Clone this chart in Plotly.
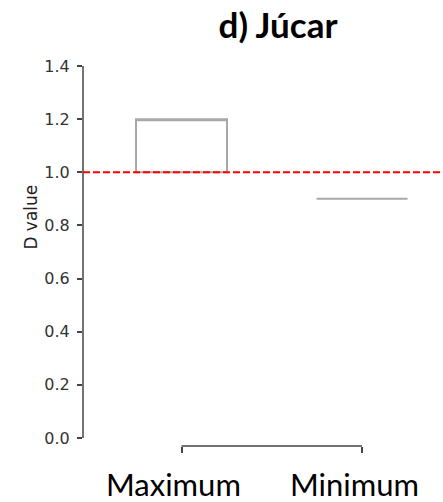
import plotly.graph_objects as go

# ---- data ----
categories = ["Maximum", "Minimum"]
q1 = [1.0, 0.9]
median = [1.2, 0.9]
q3 = [1.2, 0.9]
lower = [1.0, 0.9]
upper = [1.2, 0.9]
threshold = 1.0
y_ticks = [0.0, 0.2, 0.4, 0.6, 0.8, 1.0, 1.2, 1.4]
title_text = "d) Júcar"
y_title = "D value"

xpos = list(range(len(categories)))

fig = go.Figure()
fig.add_trace(go.Box(
    x=xpos, q1=q1, median=median, q3=q3,
    lowerfence=lower, upperfence=upper,
    width=0.504, whiskerwidth=0.5,
    fillcolor="rgba(255,255,255,0)",
    line=dict(color="#a8a8a8", width=2),
    boxpoints=False, showlegend=False, hoverinfo="skip",
))

ymin = -0.0302
fig.update_layout(
    width=443, height=502,
    margin=dict(l=83, r=1, t=66, b=56),
    paper_bgcolor="white", plot_bgcolor="white",
    showlegend=False,
    title=dict(text="<b>" + title_text + "</b>", xref="container", x=278 / 443,
               xanchor="center", yref="container", y=1 - 26 / 502, yanchor="middle",
               font=dict(family="Lato", size=35, color="black")),
    xaxis=dict(range=[-0.5457, 1.443], tickvals=xpos, ticktext=["", ""],
               ticks="outside", ticklen=6, tickcolor="#444", tickwidth=1.5,
               showgrid=False, zeroline=False, showline=False),
    yaxis=dict(range=[ymin, 1.4], tickvals=y_ticks,
               ticktext=[f"{v:.1f}" for v in y_ticks],
               ticks="outside", ticklen=5, tickcolor="#444", tickwidth=1.5,
               tickfont=dict(family="DejaVu Sans", size=16, color="#333"),
               ticklabelstandoff=4,
               showgrid=False, zeroline=False, showline=False),
)

# trimmed spines
fig.add_shape(type="line", xref="paper", yref="y", x0=0, x1=0, y0=0, y1=1.4,
              line=dict(color="#444", width=1.5))
fig.add_shape(type="line", xref="x", yref="paper", x0=xpos[0], x1=xpos[-1], y0=0, y1=0,
              line=dict(color="#444", width=1.5))
# threshold
fig.add_shape(type="line", xref="paper", yref="y", x0=0, x1=1, y0=threshold, y1=threshold,
              line=dict(color="red", width=2, dash="7px,3px"))

# category labels
for xi, c in zip(xpos, categories):
    fig.add_annotation(x=xi, xref="x", y=0, yref="paper", yanchor="top",
                       xanchor="center", xshift=-8, yshift=-17, showarrow=False,
                       text=c, font=dict(family="Lato", size=31, color="black"))

# y title
fig.add_annotation(x=(24.5 - 83) / 359, xref="paper", y=(445.7 - 217) / 379.7, yref="paper",
                   xshift=-5, textangle=-90, showarrow=False, text=y_title,
                   font=dict(family="DejaVu Sans", size=17, color="#222"))

fig.write_html("out.html", config={"displayModeBar": False},
               post_script="document.body.style.margin='0';")
